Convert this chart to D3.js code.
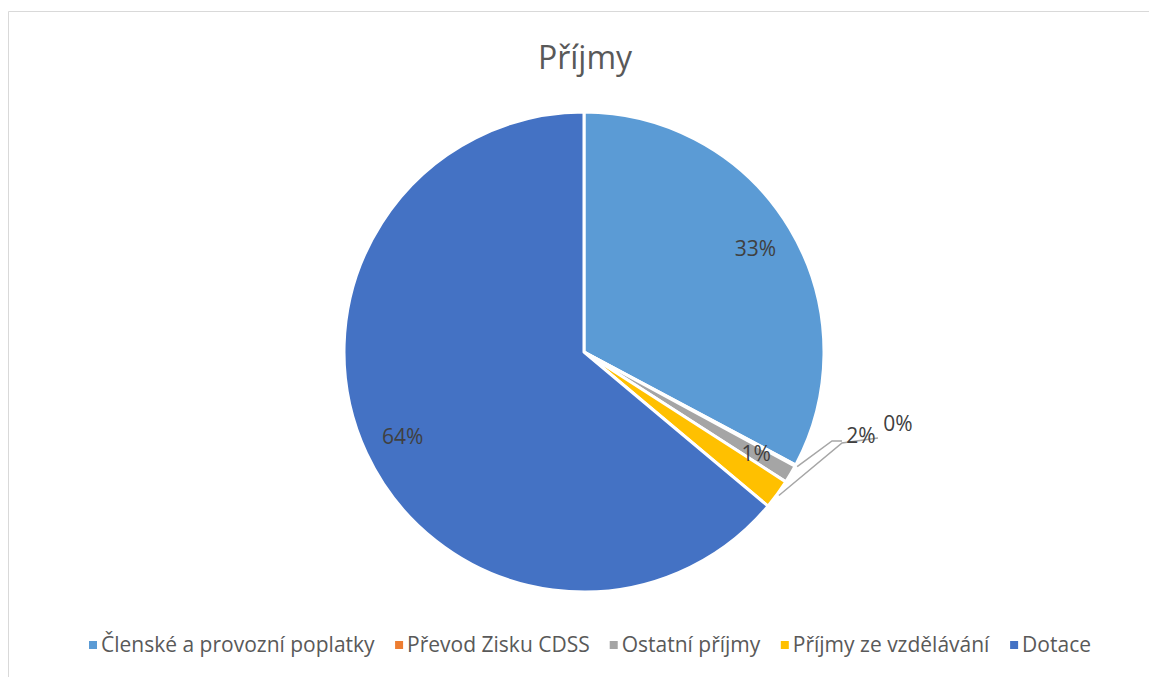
<!DOCTYPE html>
<html>
<head>
<meta charset="utf-8">
<script src="https://cdn.jsdelivr.net/npm/d3@7"></script>
<style>
  body { margin: 0; background: #fff; }
  text { font-family: "Open Sans", Calibri, sans-serif; }
</style>
</head>
<body>
<div id="canvas"></div>
<script>
// data
var categories = ["Členské a provozní poplatky", "Převod Zisku CDSS", "Ostatní příjmy", "Příjmy ze vzdělávání", "Dotace"];
var values = [32.8, 0.1, 1.2, 2.0, 63.9];
var labels = ["33%", "0%", "1%", "2%", "64%"];
var colors = ["#5B9BD5", "#ED7D31", "#A5A5A5", "#FFC000", "#4472C4"];

var width = 1149, height = 677;
var cx = 584, cy = 352, radius = 240;

var svg = d3.select("#canvas")
  .append("svg")
    .attr("width", width)
    .attr("height", height);

// chart frame
svg.append("path")
  .attr("d", "M8.5," + height + "V11.5H" + width)
  .attr("fill", "none")
  .attr("stroke", "#d9d9d9")
  .attr("stroke-width", 1);

svg.append("text")
  .attr("x", cx + 1)
  .attr("y", 69)
  .attr("text-anchor", "middle")
  .attr("fill", "#595959")
  .style("font-size", "32px")
  .text("Příjmy");

var pie = d3.pie().sort(null).value(function(d) { return d; });
var arcs = pie(values);
var arc = d3.arc().innerRadius(0).outerRadius(radius);
var labelArc = d3.arc().innerRadius(200).outerRadius(200);

var g = svg.append("g").attr("transform", "translate(" + cx + "," + cy + ")");

g.selectAll("path.slice")
  .data(arcs)
  .enter()
  .append("path")
    .attr("class", "slice")
    .attr("d", arc)
    .attr("fill", function(d, i) { return colors[i]; })
    .attr("stroke", "#fff")
    .attr("stroke-width", 3)
    .attr("stroke-linejoin", "round");

// labels inside big slices, small ones pushed out with leader lines
var outside = {
  1: { label: [314, 72], leader: [[248, 89], [258, 89]] },
  3: { label: [277, 84], leader: [[258, 91], [294, 86]] }
};

function anchor(d) {
  var a = (d.startAngle + d.endAngle) / 2;
  return [Math.sin(a) * (radius + 2), -Math.cos(a) * (radius + 2)];
}

arcs.forEach(function(d, i) {
  var o = outside[i];
  var pos = o ? o.label : labelArc.centroid(d);
  if (o) {
    g.append("path")
      .attr("d", d3.line()([anchor(d)].concat(o.leader)))
      .attr("fill", "none")
      .attr("stroke", "#A6A6A6")
      .attr("stroke-width", 1.5);
  }
  g.append("text")
    .attr("x", pos[0])
    .attr("y", pos[1])
    .attr("dy", "0.35em")
    .attr("text-anchor", "middle")
    .attr("fill", "#404040")
    .style("font-size", "21px")
    .text(labels[i]);
});

// legend
var legend = svg.append("g").attr("transform", "translate(0,645)");
var items = legend.selectAll("g")
  .data(categories)
  .enter()
  .append("g");
items.append("rect")
  .attr("y", -4)
  .attr("width", 8)
  .attr("height", 8)
  .attr("fill", function(d, i) { return colors[i]; });
items.append("text")
  .attr("x", 12)
  .attr("dy", "0.35em")
  .attr("fill", "#595959")
  .style("font-size", "21px")
  .text(function(d) { return d; });

var gap = 20, xpos = 0, offsets = [];
items.each(function() {
  offsets.push(xpos);
  xpos += this.getBBox().width + gap;
});
var start = 590 - (xpos - gap) / 2;
items.attr("transform", function(d, i) { return "translate(" + (start + offsets[i]) + ",0)"; });
</script>
</body>
</html>
